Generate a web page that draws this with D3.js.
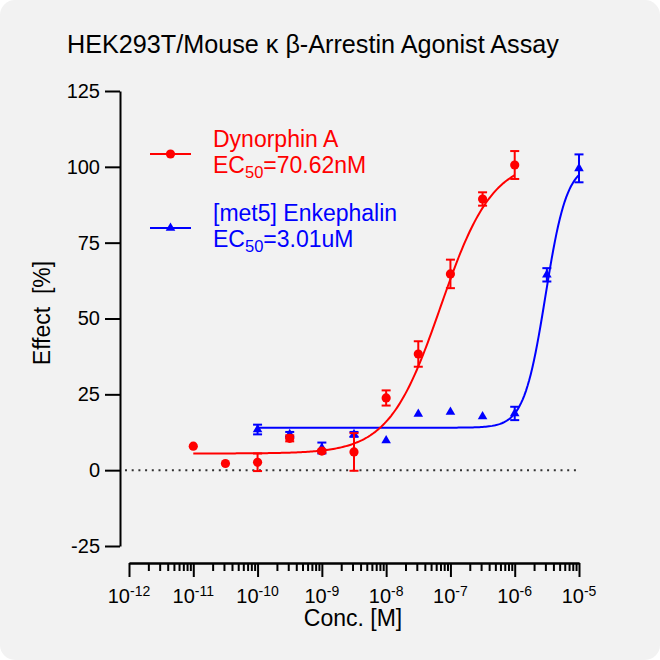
<!DOCTYPE html>
<html>
<head>
<meta charset="utf-8">
<style>
  body { margin: 0; background: #fff; }
  text { font-family: "Liberation Sans", Arial, sans-serif; }
</style>
</head>
<body></body>
<script src="https://d3js.org/d3.v7.min.js"></script>
<script>

// data (log10 of molar conc., % effect, SEM)
var dynLogConc = [-11, -10.5, -10, -9.5, -9, -8.5, -8, -7.5, -7, -6.5, -6];
var dynEffect  = [7.9, 2.2, 2.6, 10.5, 6.3, 6.0, 23.8, 38.3, 64.7, 89.4, 100.6];
var dynErr     = [0, 0, 2.9, 1.0, 0.5, 6.2, 2.5, 4.2, 4.7, 2.2, 4.6];

var enkLogConc = [-10, -9.5, -9, -8.5, -8, -7.5, -7, -6.5, -6, -5.5, -5];
var enkEffect  = [13.4, 11.8, 7.3, 11.8, 9.8, 18.5, 19.2, 17.7, 18.7, 64.4, 99.5];
var enkErr     = [1.6, 0.8, 1.8, 0.8, 0, 0, 0, 0, 2.2, 2.2, 4.6];

// 4PL fit: [bottom, top, logEC50, hill, fitFrom, fitTo]
var dynFit = [5.5, 102.5, Math.log10(70.62e-9), 1.08, -11, -6];
var enkFit = [14, 101, Math.log10(3.01e-6), 2.6, -10, -5];

var yTicks = [-25, 0, 25, 50, 75, 100, 125];
var xDecades = [-12, -11, -10, -9, -8, -7, -6, -5];

var W = 660, H = 660;
var red = "#ff0000", blue = "#0000ff";

var svg = d3.select("body").append("svg")
	.attr("width", W)
	.attr("height", H);

svg.append("rect")
	.attr("width", W).attr("height", H)
	.attr("rx", 15)
	.attr("fill", "#f2f2f2");

var x = d3.scaleLog().domain([1e-12, 1e-5]).range([129, 579]);
var y = d3.scaleLinear().domain([-25, 125]).range([546, 91]);

// y axis
var yAxis = svg.append("g")
	.attr("transform", "translate(120,0)")
	.call(d3.axisLeft(y).tickValues(yTicks).tickSize(15).tickSizeOuter(0).tickPadding(5)
		.tickFormat(d => String(d)));
yAxis.selectAll("text").attr("font-size", 20).attr("fill", "#000")
	.style("font-family", "'Liberation Sans', Arial, sans-serif");

// x axis: minor then major ticks
var minors = [];
xDecades.slice(0, -1).forEach(d => {
	for (var k = 2; k < 10; k++) minors.push(k * Math.pow(10, d));
});
var majors = xDecades.map(d => Math.pow(10, d));

svg.append("g")
	.attr("transform", "translate(0,563)")
	.call(d3.axisBottom(x).tickValues(minors).tickSize(8).tickSizeOuter(0).tickFormat(""));

var xAxis = svg.append("g")
	.attr("transform", "translate(0,563)")
	.call(d3.axisBottom(x).tickValues(majors).tickSize(14).tickSizeOuter(0).tickFormat(""));

svg.selectAll(".domain, .tick line")
	.attr("stroke", "#000")
	.attr("stroke-width", 2);

var xLab = svg.append("g").selectAll("text")
	.data(xDecades)
  .enter().append("text")
	.attr("x", d => x(Math.pow(10, d)))
	.attr("y", 603)
	.attr("text-anchor", "middle")
	.attr("font-size", 20)
	.attr("fill", "#000");
xLab.append("tspan").text("10");
xLab.append("tspan")
	.attr("font-size", 14)
	.attr("dy", -7)
	.text(d => d);

// zero reference line
svg.append("line")
	.attr("x1", 125).attr("x2", 579)
	.attr("y1", y(0)).attr("y2", y(0))
	.attr("stroke", "#333")
	.attr("stroke-width", 2)
	.attr("stroke-dasharray", "2,4.7");

// fitted curves
function curvePts(f) {
	var pts = [];
	for (var i = 0; i <= 200; i++) {
		var lx = f[4] + (f[5] - f[4]) * i / 200;
		pts.push([lx, f[0] + (f[1] - f[0]) / (1 + Math.pow(10, (f[2] - lx) * f[3]))]);
	}
	return pts;
}
var line = d3.line()
	.x(d => x(Math.pow(10, d[0])))
	.y(d => y(d[1]));

function drawSeries(logs, vals, errs, fit, color, symbol) {
	var g = svg.append("g");
	g.append("path")
		.attr("d", line(curvePts(fit)))
		.attr("fill", "none")
		.attr("stroke", color)
		.attr("stroke-width", 2);

	var pts = logs.map((l, i) => ({ cx: x(Math.pow(10, l)), v: vals[i], e: errs[i] }));
	var eb = g.selectAll(".eb").data(pts.filter(d => d.e > 0)).enter().append("g")
		.attr("stroke", color).attr("stroke-width", 2);
	eb.append("line")
		.attr("x1", d => d.cx).attr("x2", d => d.cx)
		.attr("y1", d => y(d.v - d.e)).attr("y2", d => y(d.v + d.e));
	[1, -1].forEach(s => {
		eb.append("line")
			.attr("x1", d => d.cx - 4.5).attr("x2", d => d.cx + 4.5)
			.attr("y1", d => y(d.v + s * d.e)).attr("y2", d => y(d.v + s * d.e));
	});

	g.selectAll(".pt").data(pts).enter().append("path")
		.attr("transform", d => "translate(" + d.cx + "," + y(d.v) + ")")
		.attr("d", symbol)
		.attr("fill", color);
}

var circleSym = d3.symbol().type(d3.symbolCircle).size(Math.PI * 4.6 * 4.6)();
var triSym = d3.symbol().type(d3.symbolTriangle).size(40)();

drawSeries(enkLogConc, enkEffect, enkErr, enkFit, blue, triSym);
drawSeries(dynLogConc, dynEffect, dynErr, dynFit, red, circleSym);

// legend
var legend = [
	{ name: "Dynorphin A", ec: "=70.62nM", color: red, sym: circleSym, y: 154 },
	{ name: "[met5] Enkephalin", ec: "=3.01uM", color: blue, sym: triSym, y: 228 }
];
var lg = svg.append("g").selectAll("g").data(legend).enter().append("g");
lg.append("line")
	.attr("x1", 150).attr("x2", 191)
	.attr("y1", d => d.y).attr("y2", d => d.y)
	.attr("stroke", d => d.color).attr("stroke-width", 2);
lg.append("path")
	.attr("transform", d => "translate(170.5," + d.y + ")")
	.attr("d", d => d.sym)
	.attr("fill", d => d.color);
lg.append("text")
	.attr("x", 213).attr("y", d => d.y - 7.5)
	.attr("font-size", 23)
	.attr("fill", d => d.color)
	.text(d => d.name);
var ecText = lg.append("text")
	.attr("x", 213).attr("y", d => d.y + 19)
	.attr("font-size", 23)
	.attr("fill", d => d.color);
ecText.append("tspan").text("EC");
ecText.append("tspan").attr("font-size", 16.5).attr("dy", 5).text("50");
ecText.append("tspan").attr("dy", -5).text(d => d.ec);

// titles
svg.append("text")
	.attr("x", 67).attr("y", 53)
	.attr("font-size", 25.2)
	.attr("fill", "#000")
	.text("HEK293T/Mouse κ β-Arrestin Agonist Assay");

svg.append("text")
	.attr("x", 353).attr("y", 626)
	.attr("text-anchor", "middle")
	.attr("font-size", 23)
	.attr("fill", "#000")
	.text("Conc. [M]");

svg.append("text")
	.attr("transform", "translate(50,313) rotate(-90)")
	.attr("text-anchor", "middle")
	.attr("font-size", 23)
	.attr("fill", "#000")
	.style("white-space", "pre")
	.text("Effect  [%]");

</script>
</html>
